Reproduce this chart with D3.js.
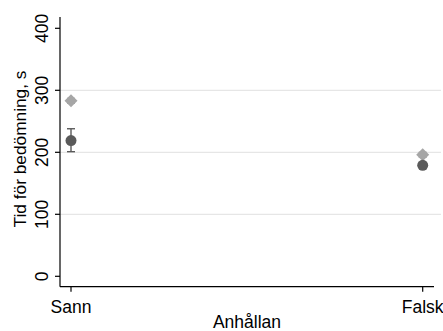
<!DOCTYPE html>
<html><head><meta charset="utf-8">
<script src="https://cdn.jsdelivr.net/npm/d3@7"></script>
<style>body{margin:0;background:#fff}svg{display:block}text{font-family:"Liberation Sans",Arial,sans-serif}</style>
</head><body>
<script>
const categories = ["Sann", "Falsk"];
const yTicks = [0, 100, 200, 300, 400];
const gridTicks = [100, 200, 300];
// series: light (diamond) and dark (circle) — mean, low, high
const lightMean = [283, 196];
const lightLow = [279, 192];
const lightHigh = [287, 200];
const darkMean = [219, 179];
const darkLow = [201, 175];
const darkHigh = [238, 183];

const W = 443, H = 331;
const FS = 17.5;
const svg = d3.select("body").append("svg").attr("width", W).attr("height", H);
const x = d3.scalePoint().domain(categories).range([71, 422.7]);
const y = d3.scaleLinear().domain([0, 400]).range([276.3, 28.3]);
const axisX0 = 60, axisY0 = 286.7;

// gridlines
svg.append("g").selectAll("line").data(gridTicks).join("line")
  .attr("x1", axisX0).attr("x2", 441)
  .attr("y1", d => y(d)).attr("y2", d => y(d))
  .attr("stroke", "#e6e6e6").attr("stroke-width", 1.2);

// y axis
svg.append("line").attr("x1", axisX0).attr("x2", axisX0).attr("y1", 17).attr("y2", axisY0)
  .attr("stroke", "#000").attr("stroke-width", 1.2);
const yt = svg.append("g").selectAll("g").data(yTicks).join("g");
yt.append("line").attr("x1", axisX0 - 5).attr("x2", axisX0).attr("y1", d => y(d)).attr("y2", d => y(d))
  .attr("stroke", "#000").attr("stroke-width", 1.2);
yt.append("text").attr("transform", d => `translate(47.5,${y(d)}) rotate(-90)`)
  .attr("text-anchor", "middle").attr("font-size", FS).attr("fill", "#000").text(d => d);

// x axis
svg.append("line").attr("x1", axisX0).attr("x2", 434).attr("y1", axisY0).attr("y2", axisY0)
  .attr("stroke", "#000").attr("stroke-width", 1.2);
const xt = svg.append("g").selectAll("g").data(categories).join("g");
xt.append("line").attr("x1", d => x(d)).attr("x2", d => x(d)).attr("y1", axisY0).attr("y2", axisY0 + 5)
  .attr("stroke", "#000").attr("stroke-width", 1.2);
xt.append("text").attr("x", d => x(d)).attr("y", 313).attr("text-anchor", "middle")
  .attr("font-size", FS).attr("fill", "#000").text(d => d);

// axis titles
svg.append("text").attr("x", 247).attr("y", 328).attr("text-anchor", "middle")
  .attr("font-size", FS).attr("fill", "#000").text("Anhållan");
svg.append("text").attr("transform", `translate(25.5,${149}) rotate(-90)`).attr("text-anchor", "middle")
  .attr("font-size", 17.3).attr("fill", "#000").text("Tid för bedömning, s");

function errbars(mean, low, high, color) {
  const g = svg.append("g");
  categories.forEach((c, i) => {
    const cx = x(c);
    g.append("line").attr("x1", cx).attr("x2", cx).attr("y1", y(low[i])).attr("y2", y(high[i])).attr("stroke", color).attr("stroke-width", 1.4);
    [low[i], high[i]].forEach(v => g.append("line").attr("x1", cx - 4).attr("x2", cx + 4).attr("y1", y(v)).attr("y2", y(v)).attr("stroke", color).attr("stroke-width", 1.4));
  });
}
errbars(lightMean, lightLow, lightHigh, "#a6a6a6");
svg.append("g").selectAll("path").data(categories).join("path")
  .attr("transform", (c, i) => `translate(${x(c)},${y(lightMean[i])})`)
  .attr("d", "M0,-6.5L6.5,0L0,6.5L-6.5,0Z")
  .attr("fill", "#a6a6a6");
errbars(darkMean, darkLow, darkHigh, "#5a5a5a");
svg.append("g").selectAll("circle").data(categories).join("circle")
  .attr("cx", c => x(c)).attr("cy", (c, i) => y(darkMean[i])).attr("r", 5.5)
  .attr("fill", "#5a5a5a");
</script>
</body></html>
